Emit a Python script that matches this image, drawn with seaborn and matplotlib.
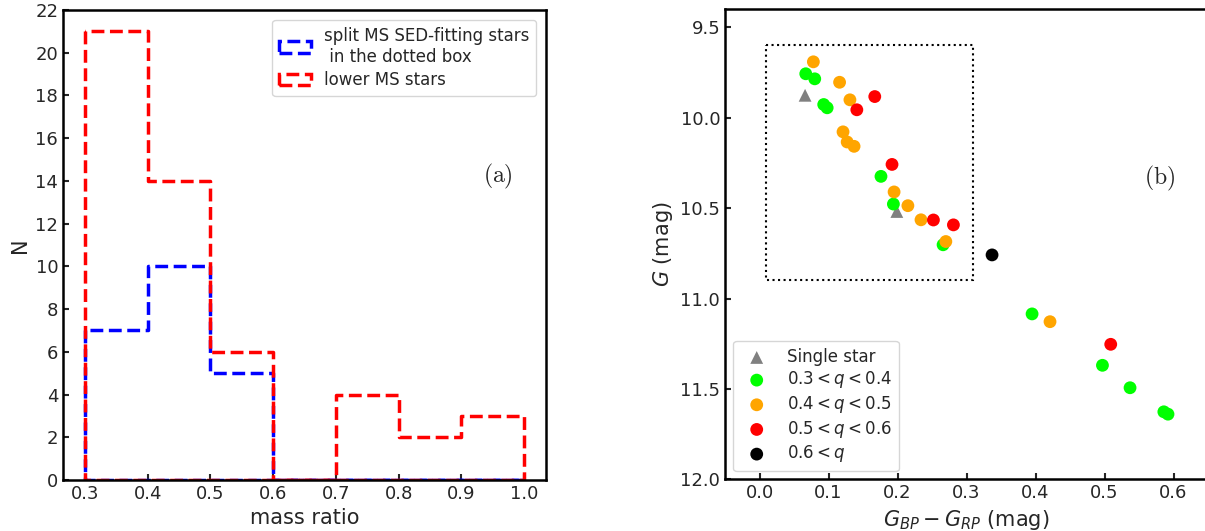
import numpy as np
import pandas as pd
import matplotlib
matplotlib.use('Agg')
import matplotlib.pyplot as plt
from matplotlib.patches import Rectangle, Patch
import seaborn as sns

# panel (a): mass-ratio histograms
bin_edges = [0.3, 0.4, 0.5, 0.6, 0.7, 0.8, 0.9, 1.0]
counts_box = [7, 10, 5, 0, 0, 0, 0]
counts_lower = [21, 14, 6, 0, 4, 2, 3]
label_box = 'split MS SED-fitting stars\n in the dotted box'
label_lower = 'lower MS stars'

# panel (b): colour-magnitude points per group
single_x = [0.066, 0.199]
single_y = [9.877, 10.519]
q34_x = [0.067, 0.080, 0.093, 0.098, 0.176, 0.194, 0.266, 0.395, 0.497, 0.537, 0.586, 0.592]
q34_y = [9.758, 9.786, 9.928, 9.946, 10.325, 10.478, 10.703, 11.085, 11.369, 11.493, 11.626, 11.639]
q45_x = [0.078, 0.116, 0.131, 0.121, 0.127, 0.137, 0.195, 0.215, 0.234, 0.270, 0.421]
q45_y = [9.692, 9.805, 9.902, 10.079, 10.135, 10.159, 10.411, 10.487, 10.565, 10.685, 11.128]
q56_x = [0.167, 0.141, 0.192, 0.252, 0.281, 0.509]
q56_y = [9.884, 9.957, 10.259, 10.566, 10.593, 11.253]
q6_x = [0.337]
q6_y = [10.759]

box_x = (0.01, 0.31)
box_y = (9.6, 10.9)

sns.set_theme(style='ticks')
plt.rcParams['font.family'] = ['DejaVu Sans']
plt.rcParams['mathtext.fontset'] = 'dejavusans'
plt.rcParams['xtick.direction'] = 'in'
plt.rcParams['ytick.direction'] = 'in'
plt.rcParams['axes.linewidth'] = 1.8
plt.rcParams['xtick.major.width'] = 1.5
plt.rcParams['ytick.major.width'] = 1.5
plt.rcParams['xtick.major.size'] = 4.5
plt.rcParams['ytick.major.size'] = 4.5
plt.rcParams['axes.edgecolor'] = 'black'

fig = plt.figure(figsize=(12.05, 5.31), dpi=100)
ax1 = fig.add_axes([0.0523, 0.096, 0.4008, 0.8851])
ax2 = fig.add_axes([0.6017, 0.097, 0.4008, 0.8861])

centers = [(a + b) / 2 for a, b in zip(bin_edges[:-1], bin_edges[1:])]
df_hist = pd.DataFrame({'q': centers, 'box': counts_box, 'lower': counts_lower})

sns.histplot(data=df_hist, x='q', weights='box', bins=bin_edges, element='step',
             fill=True, color='blue', facecolor='none', edgecolor='blue', linestyle='--',
             linewidth=2.5, ax=ax1)
sns.histplot(data=df_hist, x='q', weights='lower', bins=bin_edges, element='step',
             fill=True, color='red', facecolor='none', edgecolor='red', linestyle='--',
             linewidth=2.5, ax=ax1)

ax1.set_xlim(0.265, 1.035)
ax1.set_ylim(0, 22)
ax1.set_xticks(np.arange(0.3, 1.01, 0.1))
ax1.set_yticks(np.arange(0, 23, 2))
ax1.set_xlabel('mass ratio', fontsize=15)
ax1.set_ylabel('N', fontsize=15)
ax1.tick_params(labelsize=13)
for s in ax1.spines.values():
    s.set_visible(True)

handles = [
    Patch(facecolor='none', edgecolor='blue', linestyle='--', linewidth=2.5, label=label_box),
    Patch(facecolor='none', edgecolor='red', linestyle='--', linewidth=2.5, label=label_lower),
]
ax1.legend(handles=handles, loc='upper right', fontsize=12, labelspacing=0.35,
           handlelength=1.9, borderaxespad=0.6)
ax1.text(0.9, 0.645, r'$\mathrm{(a)}$', transform=ax1.transAxes, fontsize=17,
         ha='center', va='center', math_fontfamily='cm')

groups = [
    (single_x, single_y, 'gray', '^', 'Single star'),
    (q34_x, q34_y, '#00ff00', 'o', r'$0.3 < q < 0.4$'),
    (q45_x, q45_y, 'orange', 'o', r'$0.4 < q < 0.5$'),
    (q56_x, q56_y, 'red', 'o', r'$0.5 < q < 0.6$'),
    (q6_x, q6_y, 'black', 'o', r'$0.6 < q$'),
]
for gx, gy, col, mk, lab in groups:
    sns.scatterplot(x=gx, y=gy, color=col, marker=mk, s=85, edgecolor='none',
                    label=lab, ax=ax2)

ax2.add_patch(Rectangle((box_x[0], box_y[0]), box_x[1] - box_x[0], box_y[1] - box_y[0],
                        fill=False, linestyle=':', linewidth=1.5, edgecolor='black'))

ax2.set_xlim(-0.05, 0.65)
ax2.set_ylim(12.0, 9.4)
ax2.set_xticks(np.arange(0.0, 0.61, 0.1))
ax2.set_yticks(np.arange(9.5, 12.01, 0.5))
ax2.set_xlabel(r'$G_{BP} - G_{RP}$ (mag)', fontsize=15)
ax2.set_ylabel(r'$G$ (mag)', fontsize=15)
ax2.tick_params(labelsize=13)
for s in ax2.spines.values():
    s.set_visible(True)
ax2.legend(loc='lower left', fontsize=12, labelspacing=0.22)
ax2.text(0.9, 0.64, r'$\mathrm{(b)}$', transform=ax2.transAxes, fontsize=17,
         ha='center', va='center', math_fontfamily='cm')

plt.savefig('out.png', dpi=100)
plt.close()
